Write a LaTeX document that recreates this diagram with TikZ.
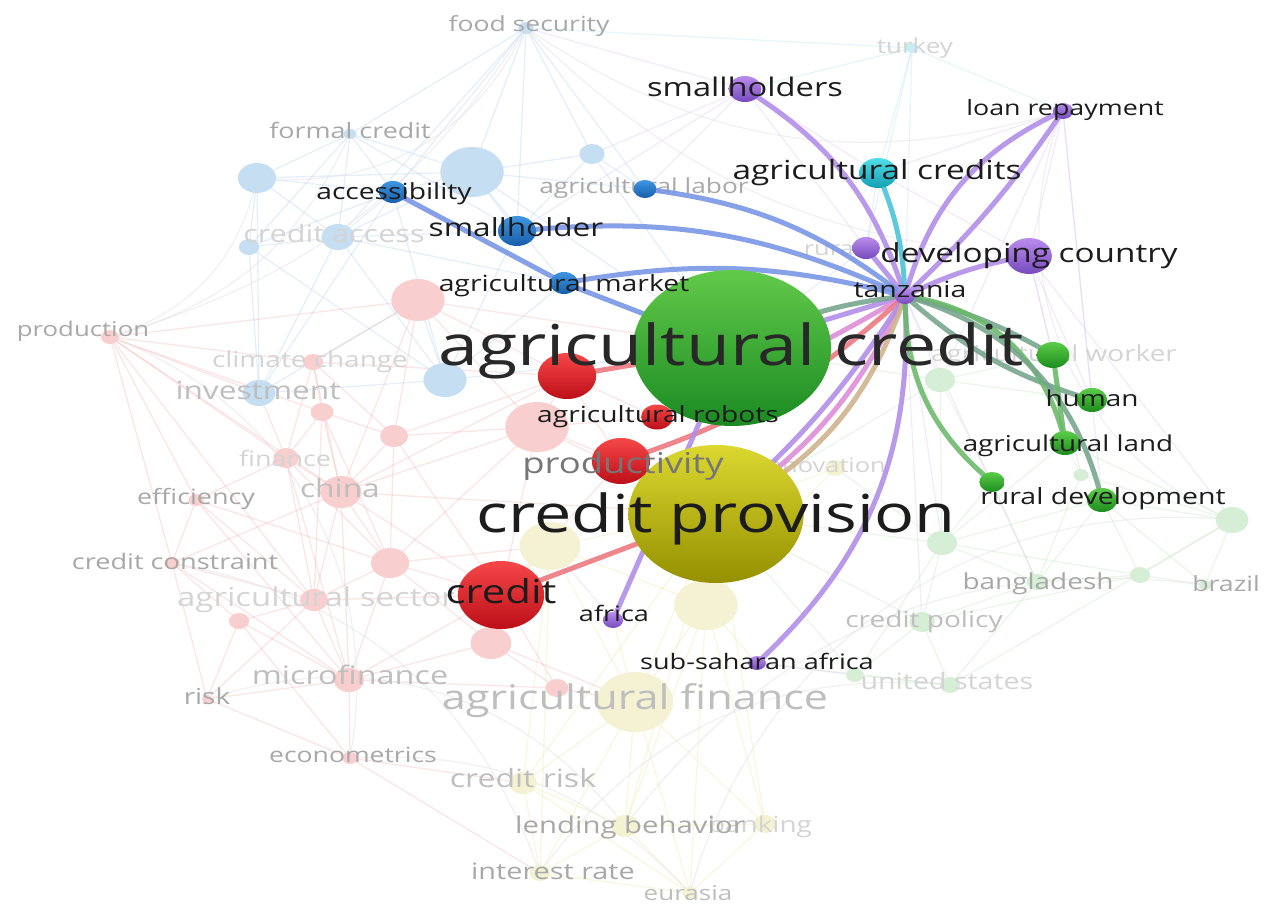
\documentclass[tikz,border=0pt]{standalone}
\usepackage{fontspec}
\setmainfont{Open Sans}
\usetikzlibrary{shapes.geometric}

\pgfdeclarelayer{backdrop}
\pgfdeclarelayer{faintedges}
\pgfdeclarelayer{fadednodes}
\pgfdeclarelayer{fadedlabels}
\pgfdeclarelayer{strongedges}
\pgfdeclarelayer{toplabels}
\pgfsetlayers{backdrop,faintedges,fadednodes,fadedlabels,strongedges,main,toplabels}

% cluster colours
\definecolor{fBlue}{RGB}{198,222,241}
\definecolor{fRed}{RGB}{249,206,206}
\definecolor{fYel}{RGB}{244,242,210}
\definecolor{fGrn}{RGB}{214,238,214}
\definecolor{fCyan}{RGB}{200,238,244}
\definecolor{eRed}{RGB}{245,172,172}
\definecolor{eBlue}{RGB}{172,204,238}
\definecolor{eYel}{RGB}{238,233,165}
\definecolor{eGrn}{RGB}{188,228,188}
\definecolor{ePur}{RGB}{214,194,240}
\definecolor{eCyan}{RGB}{178,230,240}
\definecolor{eArc}{RGB}{228,228,232}
\definecolor{sPur}{RGB}{176,140,232}
\definecolor{sCyan}{RGB}{70,195,215}
\definecolor{sBlue}{RGB}{118,148,228}
\definecolor{sGrey}{RGB}{118,165,140}
\definecolor{sGrn}{RGB}{105,185,105}
\definecolor{sRed}{RGB}{236,118,126}
\definecolor{sPink}{RGB}{222,140,215}
\definecolor{sTan}{RGB}{205,178,140}
\definecolor{txtDark}{RGB}{28,28,28}
\definecolor{txtBig}{RGB}{40,40,40}
\definecolor{txtMid}{RGB}{118,118,118}
\definecolor{txtA}{RGB}{168,168,168}
\definecolor{txtB}{RGB}{190,190,190}
\definecolor{txtC}{RGB}{212,212,212}
% ball shading, light top / dark bottom
\definecolor{grnTop}{RGB}{98,202,74}     \definecolor{grnBot}{RGB}{26,138,34}
\definecolor{yelTop}{RGB}{220,216,48}    \definecolor{yelBot}{RGB}{148,144,0}
\definecolor{redTop}{RGB}{246,72,72}     \definecolor{redBot}{RGB}{188,14,24}
\definecolor{purTop}{RGB}{186,140,236}   \definecolor{purBot}{RGB}{118,74,190}
\definecolor{cyaTop}{RGB}{80,222,232}    \definecolor{cyaBot}{RGB}{18,160,180}
\definecolor{bluTop}{RGB}{62,150,226}    \definecolor{bluBot}{RGB}{24,94,170}
\definecolor{lgrTop}{RGB}{92,204,72}     \definecolor{lgrBot}{RGB}{28,140,30}

% label text: fixed strut so every label centres on its x-height band,
% stretched horizontally like the rest of the map
\newcommand{\kwlabel}[1]{\rule[-0.26em]{0pt}{1.04em}\scalebox{1.27}[1]{#1}}

\tikzset{
  nd/.style={ellipse, inner sep=0pt, outer sep=0pt, draw=none,
             minimum height=2*#1pt, minimum width=2.54*#1pt},
  sh/.style={top color=#1Top, bottom color=#1Bot},
  lbl/.style={inner sep=0pt, font=\fontsize{#1pt}{#1pt}\selectfont},
  fR/.style={draw=eRed, line width=1.3pt, opacity=.3},
  fB/.style={draw=eBlue, line width=1.3pt, opacity=.3},
  fY/.style={draw=eYel, line width=1.3pt, opacity=.35},
  fG/.style={draw=eGrn, line width=1.3pt, opacity=.3},
  fP/.style={draw=ePur, line width=1.3pt, opacity=.3},
  fC/.style={draw=eCyan, line width=1.2pt, opacity=.35},
  fArc/.style={draw=eArc, line width=1.3pt, opacity=.5},
  sE/.style={line width=5pt, opacity=.88, draw=#1},
}

\begin{document}
\begin{tikzpicture}[x=1pt,y=-1pt]
\begin{pgfonlayer}{backdrop}
  \fill[white] (0,0) rectangle (1266,908);
\end{pgfonlayer}
\path[use as bounding box] (0,0) rectangle (1266,908);

% ---------------- faded keywords ----------------
\begin{pgfonlayer}{fadednodes}
  % blue cluster
  \node[nd=6,  fill=fBlue] (nFood)    at (526,28)  {};
  \node[nd=5,  fill=fBlue] (nFormal)  at (350,134) {};
  \node[nd=25, fill=fBlue] (nBlueBig) at (472,172) {};
  \node[nd=15, fill=fBlue] (nBlueL)   at (257,178) {};
  \node[nd=10, fill=fBlue] (nBlueR)   at (592,154) {};
  \node[nd=13, fill=fBlue] (nCAccess) at (338,237) {};
  \node[nd=8,  fill=fBlue] (nBlueS)   at (249,247) {};
  \node[nd=13, fill=fBlue] (nInvest)  at (259,393) {};
  \node[nd=17, fill=fBlue] (nBlueC)   at (445,380) {};
  % red cluster
  \node[nd=7,  fill=fRed] (nProd)    at (110,337) {};
  \node[nd=8,  fill=fRed] (nClimate) at (313,362) {};
  \node[nd=9,  fill=fRed] (nPinkA)   at (322,412) {};
  \node[nd=11, fill=fRed] (nPinkB)   at (394,436) {};
  \node[nd=21, fill=fRed] (nPinkC)   at (418,300) {};
  \node[nd=25, fill=fRed] (nPinkD)   at (537,427) {};
  \node[nd=10, fill=fRed] (nFin)     at (286,458) {};
  \node[nd=16, fill=fRed] (nChina)   at (341,492) {};
  \node[nd=6,  fill=fRed] (nEff)     at (196,500) {};
  \node[nd=15, fill=fRed] (nPinkE)   at (390,563) {};
  \node[nd=6,  fill=fRed] (nCCon)    at (172,563) {};
  \node[nd=11, fill=fRed] (nASec)    at (314,600) {};
  \node[nd=8,  fill=fRed] (nPinkF)   at (239,621) {};
  \node[nd=12, fill=fRed] (nMicro)   at (349,680) {};
  \node[nd=16, fill=fRed] (nPinkG)   at (491,643) {};
  \node[nd=9,  fill=fRed] (nPinkH)   at (557,688) {};
  \node[nd=6,  fill=fRed] (nEcon)    at (350,758) {};
  \node[nd=4,  fill=fRed] (nRisk)    at (207,699) {};
  % yellow cluster
  \node[nd=24, fill=fYel] (nYelA)  at (550,546) {};
  \node[nd=25, fill=fYel] (nYelB)  at (706,605) {};
  \node[nd=30, fill=fYel] (nAgFin) at (635,702) {};
  \node[nd=11, fill=fYel] (nCRisk) at (523,783) {};
  \node[nd=11, fill=fYel] (nLend)  at (625,826) {};
  \node[nd=9,  fill=fYel] (nBank)  at (765,824) {};
  \node[nd=8,  fill=fYel] (nInt)   at (540,873) {};
  \node[nd=6,  fill=fYel] (nEura)  at (690,893) {};
  \node[nd=8,  fill=fYel] (nInno)  at (835,468) {};
  % green cluster
  \node[nd=12, fill=fGrn] (nGA)     at (942,543)  {};
  \node[nd=13, fill=fGrn] (nGB)     at (1232,520) {};
  \node[nd=8,  fill=fGrn] (nBangla) at (1037,582) {};
  \node[nd=8,  fill=fGrn] (nGC)     at (1140,575) {};
  \node[nd=10, fill=fGrn] (nCPol)   at (922,622)  {};
  \node[nd=8,  fill=fGrn] (nUS)     at (950,685)  {};
  \node[nd=7,  fill=fGrn] (nGD)     at (855,675)  {};
  \node[nd=12, fill=fGrn] (nGE)     at (940,380)  {};
  \node[nd=6,  fill=fGrn] (nGF)     at (1081,475) {};
  \node[nd=5,  fill=fGrn] (nBrazil) at (1205,585) {};
  % cyan cluster
  \node[nd=5,  fill=fCyan] (nTurkey) at (912,48) {};
\end{pgfonlayer}

% ---------------- highlighted keywords ----------------
\node[nd=78,   sh=grn] (nAC)     at (732,348)  {};
\node[nd=69,   sh=yel] (nCP)     at (716,514)  {};
\node[nd=23,   sh=red] (nRedA)   at (567,376)  {};
\node[nd=12.5, sh=red] (nRobot)  at (657,417)  {};
\node[nd=23,   sh=red] (nProdv)  at (621,461)  {};
\node[nd=34,   sh=red] (nCredit) at (501,595)  {};
\node[nd=8,    sh=pur] (nAfrica) at (613,620)  {};
\node[nd=7,    sh=pur] (nSSA)    at (757,663)  {};
\node[nd=13,   sh=pur] (nSmhs)   at (745,89)   {};
\node[nd=8,    sh=pur] (nLoan)   at (1063,111) {};
\node[nd=18,   sh=pur] (nDev)    at (1029,256) {};
\node[nd=11,   sh=pur] (nRural)  at (866,248)  {};
\node[nd=8,    sh=pur] (nTanz)   at (905,296)  {};
\node[nd=15,   sh=cya] (nAgCs)   at (878,173)  {};
\node[nd=9,    sh=blu] (nAgLab)  at (645,189)  {};
\node[nd=11,   sh=blu] (nAccess) at (393,192)  {};
\node[nd=15,   sh=blu] (nSmh)    at (517,231)  {};
\node[nd=11,   sh=blu] (nAgMkt)  at (564,283)  {};
\node[nd=13,   sh=lgr] (nAgWork) at (1053,355) {};
\node[nd=12,   sh=lgr] (nHuman)  at (1092,400) {};
\node[nd=12,   sh=lgr] (nAgLand) at (1065,443) {};
\node[nd=12,   sh=lgr] (nRurDev) at (1102,500) {};
\node[nd=10,   sh=lgr] (nGSmall) at (992,482)  {};

% ---------------- faint co-occurrence links ----------------
\begin{pgfonlayer}{faintedges}
  \foreach \a/\b in {nProd/nClimate, nProd/nPinkC, nProd/nFin, nProd/nChina, nProd/nEff,
      nProd/nInvest, nProd/nASec, nProd/nPinkA, nClimate/nPinkC, nClimate/nPinkA,
      nClimate/nPinkB, nClimate/nRedA, nClimate/nChina, nPinkA/nFin, nPinkA/nChina,
      nPinkA/nPinkB, nPinkA/nPinkE, nPinkB/nPinkD, nPinkB/nChina, nPinkB/nRedA,
      nPinkB/nCredit, nPinkB/nPinkE, nPinkC/nRedA, nPinkC/nPinkD, nPinkC/nChina,
      nPinkC/nAC, nFin/nChina, nFin/nEff, nFin/nPinkE, nFin/nASec, nChina/nPinkE,
      nChina/nASec, nChina/nCCon, nChina/nCredit, nChina/nPinkD, nChina/nMicro,
      nEff/nCCon, nEff/nASec, nEff/nMicro, nPinkE/nCredit, nPinkE/nASec, nPinkE/nMicro,
      nPinkE/nPinkD, nPinkE/nPinkG, nCCon/nASec, nCCon/nPinkF, nCCon/nMicro,
      nASec/nPinkF, nASec/nMicro, nASec/nCredit, nASec/nRisk, nPinkF/nMicro,
      nPinkF/nRisk, nPinkF/nEcon, nMicro/nPinkG, nMicro/nEcon, nMicro/nRisk,
      nMicro/nCredit, nMicro/nPinkH, nPinkG/nCredit, nPinkG/nPinkH, nPinkG/nAgFin,
      nPinkH/nAgFin, nPinkH/nCredit, nEcon/nRisk, nEcon/nCRisk, nEcon/nInt,
      nCredit/nPinkD, nCredit/nYelA, nPinkD/nRedA, nPinkD/nProdv, nPinkD/nRobot,
      nRedA/nProdv, nProdv/nCredit, nRobot/nRedA, nPinkD/nCP, nChina/nCP,
      nClimate/nFin, nInvest/nFin, nProd/nCCon, nPinkC/nPinkB, nPinkA/nASec,
      nFin/nMicro, nPinkE/nYelA, nChina/nRedA, nEff/nPinkE, nCCon/nRisk}
    \draw[fR] (\a.center) -- (\b.center);
  \foreach \a/\b in {nFood/nBlueBig, nFood/nFormal, nFood/nBlueR, nFood/nAgLab, nFood/nSmh,
      nFood/nAccess, nFormal/nBlueL, nFormal/nBlueBig, nFormal/nCAccess, nFormal/nAccess,
      nFormal/nBlueS, nBlueL/nCAccess, nBlueL/nBlueS, nBlueL/nAccess, nBlueL/nInvest,
      nBlueL/nBlueBig, nBlueBig/nAccess, nBlueBig/nSmh, nBlueBig/nBlueR, nBlueBig/nAgLab,
      nBlueBig/nCAccess, nBlueBig/nAgMkt, nBlueR/nAgLab, nBlueR/nSmh, nCAccess/nBlueS,
      nCAccess/nInvest, nCAccess/nAccess, nCAccess/nBlueC, nCAccess/nAgMkt, nCAccess/nSmh,
      nBlueS/nInvest, nInvest/nBlueC, nBlueC/nAgMkt, nBlueC/nPinkC, nBlueC/nSmh,
      nInvest/nAccess, nBlueS/nAccess, nBlueC/nAC, nBlueBig/nAC, nInvest/nPinkC,
      nFood/nCAccess, nFormal/nSmh, nBlueR/nAC, nAccess/nBlueC, nBlueS/nBlueC}
    \draw[fB] (\a.center) -- (\b.center);
  \foreach \a/\b in {nYelA/nCP, nYelA/nCredit, nYelA/nYelB, nYelB/nCP, nYelB/nAgFin,
      nAgFin/nCRisk, nAgFin/nLend, nAgFin/nBank, nAgFin/nCP, nAgFin/nEura, nCRisk/nLend,
      nCRisk/nInt, nLend/nInt, nLend/nEura, nLend/nBank, nBank/nEura, nInt/nEura,
      nInno/nCP, nInno/nYelB, nYelA/nAgFin, nCRisk/nYelA, nBank/nYelB, nCRisk/nEura,
      nInt/nAgFin, nYelB/nSSA, nAgFin/nAfrica, nBank/nCP, nLend/nYelB, nCRisk/nCP,
      nLend/nCP, nInt/nYelA, nEura/nYelB}
    \draw[fY] (\a.center) -- (\b.center);
  \foreach \a/\b in {nGA/nBangla, nGA/nCPol, nGA/nGD, nGA/nGC, nBangla/nGC, nBangla/nCPol,
      nGC/nGB, nGB/nBrazil, nBrazil/nGC, nCPol/nUS, nUS/nGD, nGD/nCPol, nGE/nGA,
      nGF/nGB, nGF/nBangla, nUS/nGB, nGA/nInno, nRurDev/nGB, nRurDev/nGC, nAgLand/nGF,
      nGE/nAgWork, nGA/nRurDev, nBangla/nRurDev, nGSmall/nGA, nGSmall/nBangla,
      nCPol/nCP, nGE/nAC, nUS/nSSA, nGA/nCP, nGB/nAgLand, nGE/nCP, nGE/nGSmall,
      nGA/nAgLand, nBangla/nUS, nGC/nCPol, nGE/nHuman, nGD/nCP, nBrazil/nRurDev}
    \draw[fG] (\a.center) -- (\b.center);
  \foreach \a/\b in {nTanz/nGA, nTanz/nBangla, nTanz/nCPol, nTanz/nGE, nSmhs/nFood,
      nSmhs/nBlueR, nLoan/nDev, nDev/nGB, nDev/nGF, nLoan/nGE, nSmhs/nAgCs, nDev/nAgCs,
      nRural/nAgCs, nRural/nSmhs, nLoan/nAgCs, nSmhs/nAgLab, nSmhs/nSmh, nRural/nAC,
      nDev/nAgWork, nLoan/nRurDev, nSSA/nGD, nAfrica/nYelA, nDev/nHuman, nLoan/nHuman}
    \draw[fP] (\a.center) -- (\b.center);
  \foreach \a/\b in {nTurkey/nAgCs, nTurkey/nTanz, nTurkey/nSmhs, nTurkey/nFood, nTurkey/nLoan, nTurkey/nRural}
    \draw[fC] (\a.center) -- (\b.center);
  % outer sweep of long links
  \draw[fArc] (nFood.center) to[bend left=35] (nBlueL.center);
  \draw[fArc] (nFood.center) to[bend right=25] (nLoan.center);
  \draw[fArc] (nFood.center) to[bend right=20] (nDev.center);
  \draw[fArc] (nBlueL.center) to[bend left=30] (nProd.center);
  \draw[fArc] (nFormal.center) to[bend left=25] (nProd.center);
  \draw[fArc] (nProd.center) to[bend left=40] (nEcon.center);
  \draw[fArc] (nEcon.center) to[bend left=25] (nEura.center);
  \draw[fArc] (nEura.center) to[bend left=40] (nGB.center);
  \draw[fArc] (nGB.center) to[bend left=45] (nLoan.center);
  \draw[fArc] (nInt.center) to[bend left=30] (nUS.center);
  \draw[fArc] (nLend.center) to[bend left=30] (nBrazil.center);
  \draw[fArc] (nCCon.center) to[bend left=30] (nInt.center);
  \draw[fArc] (nRisk.center) to[bend left=35] (nLend.center);
  \draw[fArc] (nFood.center) to[bend left=20] (nProd.center);
\end{pgfonlayer}

% ---------------- links of the highlighted keywords ----------------
\begin{pgfonlayer}{strongedges}
  \draw[sE=sPur]  (nTanz.center) to[bend right=20] (nSmhs.center);
  \draw[sE=sCyan] (nTanz.center) to[bend right=10] (nAgCs.center);
  \draw[sE=sPur]  (nTanz.center) to[bend left=25] (nLoan.center);
  \draw[sE=sPur]  (nTanz.center) to[bend right=6] (nLoan.center);
  \draw[sE=sPur]  (nTanz.center) to[bend left=8] (nDev.center);
  \draw[sE=sPur]  (nTanz.center) -- (nRural.center);
  \draw[sE=sBlue] (nAccess.center) -- (nAgMkt.center);
  \draw[sE=sBlue] (nAgMkt.center) to[bend left=12] (nTanz.center);
  \draw[sE=sBlue] (nAgMkt.center) -- (nAC.center);
  \draw[sE=sBlue] (nSmh.center) to[bend left=15] (nTanz.center);
  \draw[sE=sBlue] (nAgLab.center) to[bend left=15] (nTanz.center);
  \draw[sE=sPur]  (nTanz.center) -- (nAC.center);
  \draw[sE=sGrey] (nTanz.center) to[bend right=10] (nAC.center);
  \draw[sE=sPink] (nTanz.center) to[bend left=4] (nRobot.center);
  \draw[sE=sRed]  (nTanz.center) to[bend left=12] (nProdv.center);
  \draw[sE=sPink] (nTanz.center) to[bend left=15] (nCP.center);
  \draw[sE=sPur]  (nTanz.center) to[bend left=8] (nCP.center);
  \draw[sE=sTan]  (nTanz.center) to[bend left=22] (nCP.center);
  \draw[sE=sPur]  (nTanz.center) to[bend left=25] (nSSA.center);
  \draw[sE=sPur]  (nAC.center) -- (nAfrica.center);
  \draw[sE=sRed]  (nRedA.center) -- (nAC.center);
  \draw[sE=sRed]  (nCredit.center) -- (nCP.center);
  \draw[sE=sGrey] (nTanz.center) to[bend left=8] (nAgWork.center);
  \draw[sE=sGrey] (nTanz.center) to[bend right=12] (nHuman.center);
  \draw[sE=sGrn]  (nTanz.center) to[bend left=35] (nAgLand.center);
  \draw[sE=sGrey] (nTanz.center) to[bend left=30] (nRurDev.center);
  \draw[sE=sGrn]  (nTanz.center) to[bend right=25] (nGSmall.center);
  \draw[sE=sGrn]  (nAgWork.center) -- (nAgLand.center);
\end{pgfonlayer}

% ---------------- faded labels ----------------
\begin{pgfonlayer}{fadedlabels}
  \node[lbl=20.9, text=txtA] (tFood)    at (529,26)  {\kwlabel{food security}};
  \node[lbl=20.5, text=txtC] (tTurkey)  at (915,48)  {\kwlabel{turkey}};
  \node[lbl=21.2, text=txtA] (tFormal)  at (350,133) {\kwlabel{formal credit}};
  \node[lbl=20.7, text=txtA] (tAgLab)   at (644,188) {\kwlabel{agricultural labor}};
  \node[lbl=24.1, text=txtC] (tCAccess) at (334,236) {\kwlabel{credit access}};
  \node[lbl=20,   text=txtC] (tRural)   at (832,250) {\kwlabel{rural}};
  \node[lbl=20.3, text=txtA] (tProd)    at (83,331)  {\kwlabel{production}};
  \node[lbl=22,   text=txtC] (tClimate) at (310,362) {\kwlabel{climate change}};
  \node[lbl=24.9, text=txtB] (tInvest)  at (258,393) {\kwlabel{investment}};
  \node[lbl=21.2, text=txtC] (tFin)     at (285,461) {\kwlabel{finance}};
  \node[lbl=25,   text=txtB] (tChina)   at (340,491) {\kwlabel{china}};
  \node[lbl=21.2, text=txtA] (tEff)     at (196,499) {\kwlabel{efficiency}};
  \node[lbl=21.4, text=txtA] (tCCon)    at (175,564) {\kwlabel{credit constraint}};
  \node[lbl=26,   text=txtC] (tASec)    at (316,600) {\kwlabel{agricultural sector}};
  \node[lbl=25.5, text=txtB] (tMicro)   at (350,678) {\kwlabel{microfinance}};
  \node[lbl=22,   text=txtA] (tRisk)    at (207,699) {\kwlabel{risk}};
  \node[lbl=34,   text=txtB] (tAgFin)   at (635,701) {\kwlabel{agricultural finance}};
  \node[lbl=20.9, text=txtA] (tEcon)    at (353,757) {\kwlabel{econometrics}};
  \node[lbl=25.2, text=txtB] (tCRisk)   at (523,781) {\kwlabel{credit risk}};
  \node[lbl=22,   text=txtC] (tBank)    at (760,827) {\kwlabel{banking}};
  \node[lbl=23.1, text=txtA] (tLend)    at (630,827) {\kwlabel{lending behavior}};
  \node[lbl=22.7, text=txtA] (tInt)     at (553,874) {\kwlabel{interest rate}};
  \node[lbl=20.5, text=txtB] (tEura)    at (688,895) {\kwlabel{eurasia}};
  \node[lbl=20,   text=txtC] (tInno)    at (823,467) {\kwlabel{innovation}};
  \node[lbl=22,   text=txtC] (tAgWork)  at (1054,356) {\kwlabel{agricultural worker}};
  \node[lbl=22,   text=txtA] (tBangla)  at (1038,584) {\kwlabel{bangladesh}};
  \node[lbl=21,   text=txtA] (tBrazil)  at (1226,586) {\kwlabel{brazil}};
  \node[lbl=22.1, text=txtB] (tCPol)    at (924,622) {\kwlabel{credit policy}};
  \node[lbl=22.5, text=txtC] (tUS)      at (947,684) {\kwlabel{united states}};
\end{pgfonlayer}

% ---------------- highlighted labels ----------------
\begin{pgfonlayer}{toplabels}
  \node[lbl=25.7, text=txtDark] (tSmhs)   at (745,90)   {\kwlabel{smallholders}};
  \node[lbl=21.1, text=txtDark] (tLoan)   at (1065,110) {\kwlabel{loan repayment}};
  \node[lbl=26.3, text=txtDark] (tAgCs)   at (877,173)  {\kwlabel{agricultural credits}};
  \node[lbl=26.2, text=txtDark] (tDev)    at (1029,256) {\kwlabel{developing country}};
  \node[lbl=22.4, text=txtDark] (tTanz)   at (910,292)  {\kwlabel{tanzania}};
  \node[lbl=22.2, text=txtDark] (tAccess) at (394,194)  {\kwlabel{accessibility}};
  \node[lbl=24.9, text=txtDark] (tSmh)    at (516,230)  {\kwlabel{smallholder}};
  \node[lbl=22.3, text=txtDark] (tAgMkt)  at (564,286)  {\kwlabel{agricultural market}};
  \node[lbl=22.2, text=txtDark] (tRobot)  at (658,417)  {\kwlabel{agricultural robots}};
  \node[lbl=22,   text=txtDark] (tHuman)  at (1092,401) {\kwlabel{human}};
  \node[lbl=21.9, text=txtDark] (tAgLand) at (1068,446) {\kwlabel{agricultural land}};
  \node[lbl=22.4, text=txtDark] (tRurDev) at (1103,499) {\kwlabel{rural development}};
  \node[lbl=21.3, text=txtDark] (tAfrica) at (614,616)  {\kwlabel{africa}};
  \node[lbl=21.3, text=txtDark] (tSSA)    at (757,664)  {\kwlabel{sub-saharan africa}};
  \node[lbl=33,   text=txtDark] (tCredit) at (501,595)  {\kwlabel{credit}};
  \node[lbl=28.7, text=txtMid]  (tProdv)  at (623,466)  {\kwlabel{productivity}};
  \node[lbl=56.4, text=txtBig]  (tAC)     at (731,351)  {\kwlabel{agricultural credit}};
  \node[lbl=52.4, text=txtDark] (tCP)     at (716,519)  {\kwlabel{credit provision}};
\end{pgfonlayer}
\end{tikzpicture}
\end{document}
